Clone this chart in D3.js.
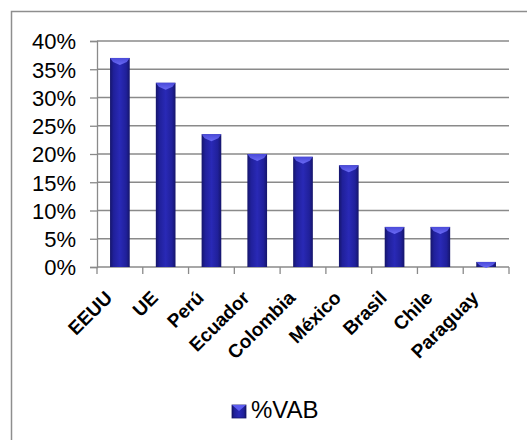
<!DOCTYPE html>
<html>
<head>
    <meta charset="utf-8" />
    <script src="https://d3js.org/d3.v7.min.js"></script>
    <style>
        body { margin: 0; background: #fff; }
        text { font-family: Arial, "Liberation Sans", sans-serif; }
    </style>
</head>
<body>
    <svg id="chart" width="527" height="440"></svg>

    <script>
        // data
        var paises = ["EEUU", "UE", "Perú", "Ecuador", "Colombia", "México", "Brasil", "Chile", "Paraguay"];
        var vab = [0.37, 0.326, 0.235, 0.20, 0.195, 0.18, 0.071, 0.071, 0.009];
        var yTicks = [0, 0.05, 0.10, 0.15, 0.20, 0.25, 0.30, 0.35, 0.40];
        var serie = "%VAB";

        var svg = d3.select("#chart");

        // plot area
        var plotLeft = 97, plotRight = 509, plotTop = 41, plotBottom = 267;

        var x = d3.scaleBand()
            .domain(paises)
            .range([plotLeft, plotRight])
            .padding(0);

        var y = d3.scaleLinear()
            .domain([0, 0.4])
            .range([plotBottom, plotTop]);

        // bar gradients
        var defs = svg.append("defs");
        var g1 = defs.append("linearGradient").attr("id", "barGrad")
            .attr("x1", "0%").attr("x2", "100%").attr("y1", "0%").attr("y2", "0%");
        g1.append("stop").attr("offset", "0%").attr("stop-color", "#15156a");
        g1.append("stop").attr("offset", "18%").attr("stop-color", "#20209a");
        g1.append("stop").attr("offset", "50%").attr("stop-color", "#2929b6");
        g1.append("stop").attr("offset", "82%").attr("stop-color", "#20209a");
        g1.append("stop").attr("offset", "100%").attr("stop-color", "#15156a");

        var g2 = defs.append("linearGradient").attr("id", "bevelGrad")
            .attr("x1", "0%").attr("x2", "0%").attr("y1", "0%").attr("y2", "100%");
        g2.append("stop").attr("offset", "0%").attr("stop-color", "#4a4ad8");
        g2.append("stop").attr("offset", "100%").attr("stop-color", "#6a6af5");

        // outer border (only top and left visible)
        svg.append("path")
            .attr("d", "M11.5,440 L11.5,11.5 L527,11.5")
            .attr("fill", "none")
            .attr("stroke", "#8e8e8e")
            .attr("stroke-width", 1.5);

        // gridlines
        svg.selectAll(".grid")
            .data(yTicks.slice(1))
            .enter().append("line")
            .attr("x1", plotLeft)
            .attr("x2", plotRight)
            .attr("y1", d => y(d))
            .attr("y2", d => y(d))
            .attr("stroke", "#8a8a8a")
            .attr("stroke-width", 1.3);

        // y axis
        var yAxis = svg.append("g")
            .attr("transform", "translate(" + plotLeft + ",0)")
            .call(d3.axisLeft(y).tickValues(yTicks).tickSize(7).tickPadding(14)
                .tickFormat(d3.format(".0%")));
        yAxis.select(".domain").attr("stroke", "#8a8a8a").attr("stroke-width", 1.3);
        yAxis.selectAll(".tick line").attr("stroke", "#8a8a8a").attr("stroke-width", 1.3);
        yAxis.selectAll("text")
            .attr("font-size", 22)
            .attr("fill", "#000")
            .attr("dy", "0.36em")
            .style("font-family", "Arial, 'Liberation Sans', sans-serif");

        // x axis line and tick marks at category boundaries
        svg.append("line")
            .attr("x1", plotLeft).attr("x2", plotRight)
            .attr("y1", plotBottom).attr("y2", plotBottom)
            .attr("stroke", "#8a8a8a").attr("stroke-width", 1.3);
        var bounds = paises.map(d => x(d)).concat([x.range()[1]]);
        svg.selectAll(".xtick")
            .data(bounds)
            .enter().append("line")
            .attr("x1", d => d).attr("x2", d => d)
            .attr("y1", plotBottom).attr("y2", plotBottom + 7)
            .attr("stroke", "#8a8a8a").attr("stroke-width", 1.3);

        // bars
        var bw = x.bandwidth() * 0.43;
        var bars = svg.selectAll(".bar")
            .data(paises.map((p, i) => ({ pais: p, v: vab[i] })))
            .enter().append("g");

        bars.append("rect")
            .attr("x", d => x(d.pais) + (x.bandwidth() - bw) / 2)
            .attr("y", d => y(d.v))
            .attr("width", bw)
            .attr("height", d => y(0) - y(d.v))
            .attr("fill", "url(#barGrad)");

        // top bevel
        bars.append("path")
            .attr("d", function (d) {
                var x0 = x(d.pais) + (x.bandwidth() - bw) / 2, y0 = y(d.v);
                var b = Math.min(4, (y(0) - y0) * 0.6);
                return "M" + x0 + "," + y0 + " L" + (x0 + bw) + "," + y0 +
                    " L" + (x0 + bw - 3) + "," + (y0 + b) + " L" + (x0 + bw / 2) + "," + (y0 + b + 3) +
                    " L" + (x0 + 3) + "," + (y0 + b) + " Z";
            })
            .attr("fill", "url(#bevelGrad)");

        // category labels
        svg.selectAll(".xlab")
            .data(paises)
            .enter().append("text")
            .attr("transform", d => "translate(" + (x(d) + x.bandwidth() / 2 - 6.5) + "," + (plotBottom + 32) + ") rotate(-45)")
            .attr("text-anchor", "end")
            .attr("font-size", 19)
            .attr("font-weight", "bold")
            .attr("fill", "#000")
            .text(d => d);

        // legend
        var lg = svg.append("g").attr("transform", "translate(232,405)");
        lg.append("rect")
            .attr("width", 14).attr("height", 13)
            .attr("fill", "url(#barGrad)")
            .attr("stroke", "#15156a").attr("stroke-width", 0.8);
        lg.append("path")
            .attr("d", "M0,0 L14,0 L7,6 Z")
            .attr("fill", "#5c5cf0");
        lg.append("text")
            .attr("x", 19)
            .attr("y", 13)
            .attr("font-size", 24)
            .attr("fill", "#000")
            .text(serie);
    </script>
</body>
</html>
